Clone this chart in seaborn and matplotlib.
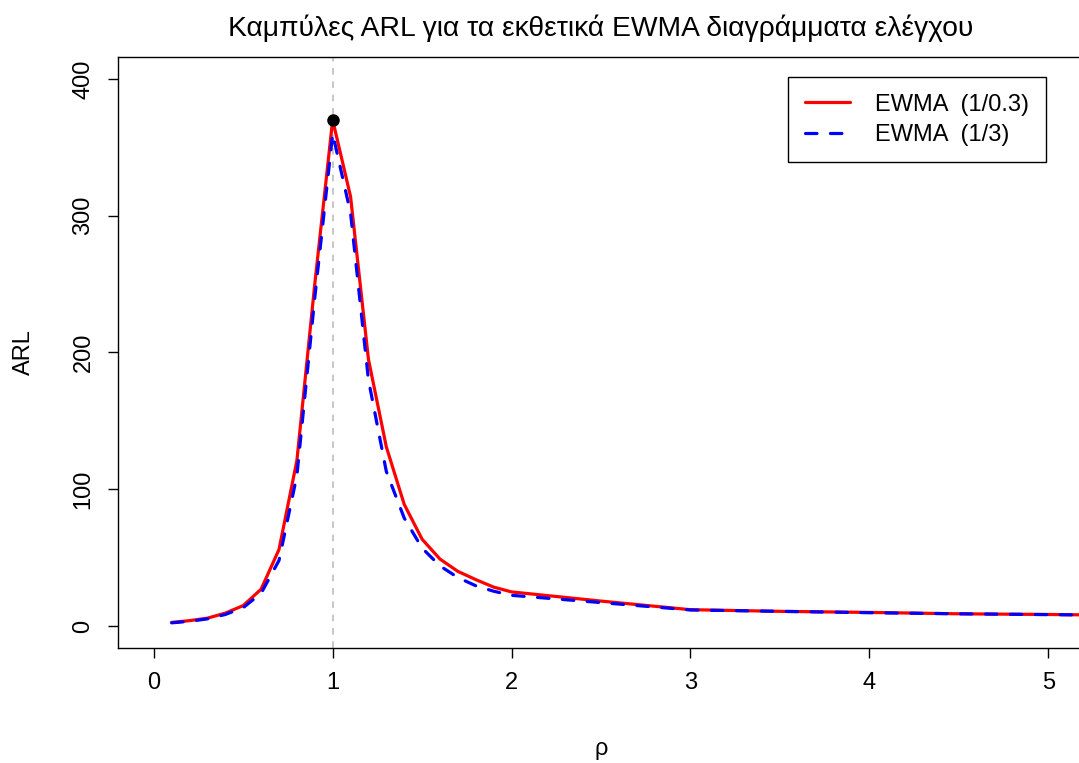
import matplotlib
matplotlib.use("Agg")
import matplotlib.pyplot as plt
import pandas as pd
import seaborn as sns

# Shift ratio rho and the ARL values of the two EWMA charts
rho = [0.1, 0.2, 0.3, 0.4, 0.5, 0.6, 0.7, 0.8, 0.9, 1.0,
       1.1, 1.2, 1.3, 1.4, 1.5, 1.6, 1.7, 1.8, 1.9, 2.0,
       2.5, 3.0, 3.5, 4.0, 4.5, 5.0, 5.5]
arl_ewma_a = [2.7, 4.0, 5.8, 9.5, 15.0, 27.0, 56.0, 121.0, 250.0, 370.0,
              314.0, 195.0, 131.0, 89.0, 63.5, 49.0, 40.0, 34.0, 28.5, 25.0,
              18.3, 12.0, 10.8, 10.0, 9.0, 8.5, 7.8]
arl_ewma_b = [2.4, 3.5, 5.3, 8.5, 13.5, 24.0, 48.0, 110.0, 240.0, 360.0,
              302.0, 180.0, 113.0, 79.0, 57.0, 44.0, 35.5, 29.5, 25.5, 22.5,
              17.2, 11.8, 10.8, 9.8, 9.0, 8.4, 7.8]
label_a = "EWMA  (1/0.3)"
label_b = "EWMA  (1/3)"
in_control_rho = 1.0
in_control_arl = 370.0

x_ticks = [0, 1, 2, 3, 4, 5]
y_ticks = [0, 100, 200, 300, 400]

title = "Καμπύλες ARL για τα εκθετικά EWMA διαγράμματα ελέγχου"
x_label = "ρ"
y_label = "ARL"

df_a = pd.DataFrame({"rho": rho, "arl": arl_ewma_a})
df_b = pd.DataFrame({"rho": rho, "arl": arl_ewma_b})

sns.set_style("white")
plt.rcParams["font.family"] = ["Liberation Sans", "DejaVu Sans"]
for key in ("text.color", "axes.labelcolor", "xtick.color", "ytick.color"):
    plt.rcParams[key] = "black"

base_fs = 17

fig = plt.figure(figsize=(10.79, 7.63), dpi=100)
W, H = 1079, 763
left, right, top, bottom = 118, 1084, 57, 648
ax = fig.add_axes([left / W, (H - bottom) / H, (right - left) / W, (bottom - top) / H])

ax.axvline(in_control_rho, color="#BEBEBE", lw=1.2, ls=(0, (4, 4)), zorder=1)

sns.lineplot(data=df_a, x="rho", y="arl", ax=ax, color="#FF0000", lw=2.3,
             label=label_a, zorder=3)
sns.lineplot(data=df_b, x="rho", y="arl", ax=ax, color="#0000FF", lw=2.3,
             label=label_b, zorder=4)
line_b = ax.get_lines()[-1]
line_b.set_linestyle((0, (3.6, 4.2)))
line_b.set_dash_capstyle("round")

ax.plot([in_control_rho], [in_control_arl], "o", color="black", ms=8, zorder=5)

ax.set_xlim(-0.2, 5.2)
ax.set_ylim(-16, 416)
ax.set_xticks(x_ticks)
ax.set_yticks(y_ticks)
ax.set_xticklabels([str(t) for t in x_ticks])
ax.set_yticklabels([str(t) for t in y_ticks], rotation=90, va="center")
ax.tick_params(axis="both", direction="out", length=7, width=1, color="black",
               labelsize=base_fs, left=True, bottom=True)
ax.tick_params(axis="x", pad=10)
ax.tick_params(axis="y", pad=10)
for s in ax.spines.values():
    s.set_color("black")
    s.set_linewidth(1)
    s.set_visible(True)

ax.set_xlabel(x_label, fontsize=base_fs, labelpad=32)
ax.set_ylabel(y_label, fontsize=base_fs, labelpad=27)
ax.set_title(title, fontsize=20.3, pad=15)

leg = ax.legend(loc="upper right", bbox_to_anchor=((1046 - left) / (right - left), (bottom - 77) / (bottom - top)),
                frameon=True, fancybox=False, framealpha=1, edgecolor="black",
                fontsize=base_fs, handlelength=1.9, borderpad=0.7, labelspacing=0.35,
                handletextpad=1.1, borderaxespad=0)
leg.get_frame().set_linewidth(1)
leg.get_lines()[1].set_linestyle((0, (3.6, 4.2)))

fig.savefig("out.png", dpi=100)
